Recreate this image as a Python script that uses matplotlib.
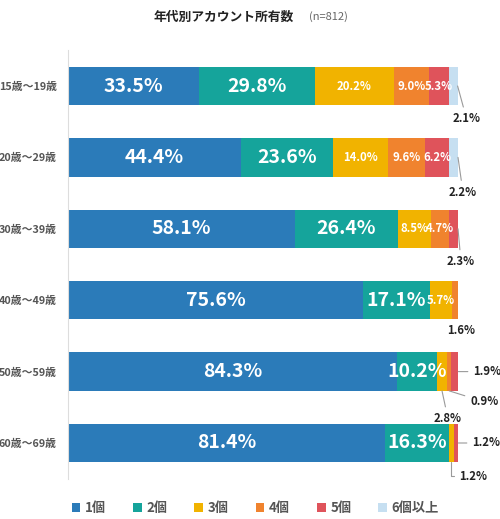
import matplotlib
matplotlib.use("Agg")
import matplotlib.pyplot as plt
from matplotlib.patches import Patch
import numpy as np

plt.rcParams['font.family'] = ['Noto Sans CJK JP', 'DejaVu Sans']

# ---- data ----
age_groups = ["15歳〜19歳", "20歳〜29歳", "30歳〜39歳", "40歳〜49歳", "50歳〜59歳", "60歳〜69歳"]
series_names = ["1個", "2個", "3個", "4個", "5個", "6個以上"]
v_1 = [33.5, 44.4, 58.1, 75.6, 84.3, 81.4]
v_2 = [29.8, 23.6, 26.4, 17.1, 10.2, 16.3]
v_3 = [20.2, 14.0, 8.5, 5.7, 2.8, 1.2]
v_4 = [9.0, 9.6, 4.7, 1.6, 0.9, 0.0]
v_5 = [5.3, 6.2, 2.3, 0.0, 1.9, 1.2]
v_6 = [2.1, 2.2, 0.0, 0.0, 0.0, 0.0]
colors = ["#2b7bb9", "#15a49b", "#f1b300", "#f0832e", "#df535b", "#c6dff1"]

# labels placed outside the bar: (row, series, anchor, dx px, dy px, h-align, leader, connection)
outside = [
    (0, 5, "end", 9, 33, 'center', True, None),
    (1, 5, "end", 5, 35, 'center', True, None),
    (2, 4, "end", 3, 33, 'center', True, None),
    (3, 3, "end", 3, 30, 'center', False, None),
    (4, 4, "end", 15, 0, 'left', True, None),
    (4, 3, "bottom", 21, 11, 'left', True, None),
    (4, 2, "bottom", 6, 28, 'center', True, None),
    (5, 4, "end", 14, 0, 'left', True, None),
    (5, 2, "bottom", 8, 14, 'left', True, "angle,angleA=0,angleB=90"),
]

data = np.array([v_1, v_2, v_3, v_4, v_5, v_6])
n_rows = len(age_groups)

fig = plt.figure(figsize=(5.0, 5.19), dpi=100)
ax = fig.add_axes([68/500, 1-479/519, 432/500, 429/519])
ax.set_xlim(0, 432/390*100)
ax.set_ylim(n_rows - 1 + 36/71.4, -36/71.4)

y = np.arange(n_rows)
bar_h = 0.54
left = np.zeros(n_rows)
for s in range(len(series_names)):
    vals = data[s]
    ax.barh(y, vals, left=left, height=bar_h, color=colors[s], edgecolor='none', zorder=2)
    for r in range(n_rows):
        v = vals[r]
        if v <= 0:
            continue
        is_out = any(o[0] == r and o[1] == s for o in outside)
        if is_out:
            continue
        cx = left[r] + v / 2
        if s < 2:
            ax.text(cx, r, f"{v:.1f}%", ha='center', va='center', color='white',
                    fontsize=14, fontweight='bold', zorder=3)
        else:
            ax.text(cx, r, f"{v:.1f}%", ha='center', va='center', color='white',
                    fontsize=8.2, fontweight='bold', zorder=3)
    left = left + vals

# outside labels with leader lines
cum = np.cumsum(data, axis=0)
for r, s, anchor, dx, dy, ha, leader, conn in outside:
    v = data[s][r]
    start = cum[s][r] - v
    if anchor == "end":
        xy = (cum[s][r], r)
    else:
        xy = (start + v / 2, r + bar_h / 2)
    ap = None
    if leader:
        ap = dict(arrowstyle='-', color='#9a9a9a', lw=0.8, shrinkA=2, shrinkB=0)
        if conn:
            ap['connectionstyle'] = conn
    ax.annotate(f"{v:.1f}%", xy=xy, xytext=(dx, -dy), textcoords='offset pixels',
                ha=ha, va='center',
                fontsize=8.2, fontweight='bold', color='#222222',
                arrowprops=ap, annotation_clip=False, zorder=4)

ax.set_yticks(y)
ax.set_yticklabels(age_groups, fontsize=7.8, fontweight='bold', color='#555555')
ax.tick_params(axis='y', length=0, pad=8)
ax.set_xticks([])
for sp in ['top', 'right', 'bottom']:
    ax.spines[sp].set_visible(False)
ax.spines['left'].set_color('#dddddd')
ax.spines['left'].set_linewidth(0.8)

# title
fig.text(224/500, 1-17/519, "年代別アカウント所有数", ha='center', va='center',
         fontsize=9.2, fontweight='bold', color='#222222')
fig.text(309/500, 1-17/519, "(n=812)", ha='left', va='center', fontsize=8, color='#666666')

# legend
handles = [Patch(facecolor=c, edgecolor='none') for c in colors]
leg = fig.legend(handles, series_names, loc='center left', bbox_to_anchor=(60/500, 1-508/519),
                 ncol=6, frameon=False, handlelength=0.65, handleheight=0.65,
                 handletextpad=0.35, columnspacing=2.05, prop={'size': 9.5, 'weight': 'bold'})
for t in leg.get_texts():
    t.set_color('#555555')

fig.savefig("out.png", dpi=100)
